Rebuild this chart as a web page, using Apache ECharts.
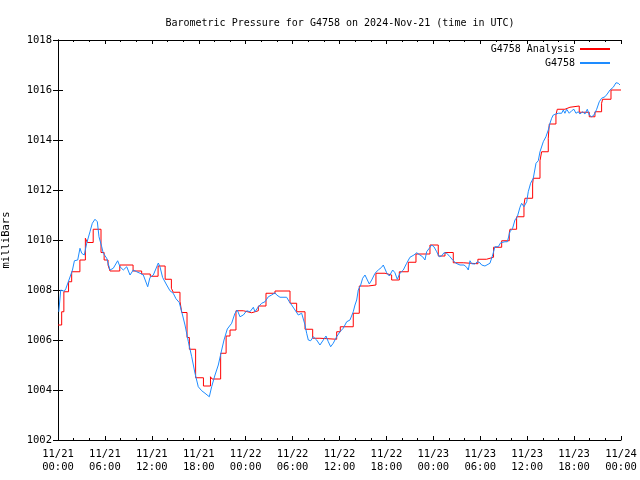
<!DOCTYPE html>
<html>
<head>
<meta charset="utf-8">
<script src="https://cdn.jsdelivr.net/npm/echarts@6/dist/echarts.min.js"></script>
<style>html,body{margin:0;padding:0;background:#fff}#c{width:640px;height:480px}</style>
</head>
<body>
<div id="c"></div>
<script>
// Hours since 2024-11-21 00:00 UTC
const analysisHours = [0,0.47,0.75,1.35,1.75,2.8,3.5,3.75,4.5,5.5,5.9,6.4,6.65,7.9,9.6,10.7,11.8,12.8,13.7,14.5,14.74,15.6,15.82,16.5,16.8,17.6,18.6,19.5,19.7,20.8,21.5,22.0,22.76,23.7,24.77,25.62,26.6,27.75,29.67,30.52,31.59,32.57,33.5,35.64,36.1,37.76,38.53,39.68,40.66,41.82,42.67,43.65,44.8,45.78,47.57,48.63,49.49,50.55,51.83,53.7,54.8,55.7,56.74,57.71,57.8,58.65,59.59,59.72,60.7,60.78,61.64,61.85,62.7,62.83,63.68,63.85,64.83,65.47,66.66,67.94,68.67,69.52,69.65,70.72,72];
const analysisValues = [1006.6,1007.13,1007.93,1008.33,1008.73,1009.2,1010.07,1009.9,1010.43,1009.5,1009.2,1009.0,1008.76,1009.0,1008.76,1008.64,1008.55,1008.96,1008.43,1008.07,1007.91,1007.55,1007.1,1006.1,1005.63,1004.49,1004.16,1004.53,1004.44,1005.47,1006.16,1006.4,1007.17,1007.09,1007.17,1007.36,1007.87,1007.96,1007.47,1007.13,1006.43,1006.07,1006.03,1006.33,1006.53,1007.07,1008.16,1008.2,1008.67,1008.6,1008.4,1008.73,1009.11,1009.44,1009.8,1009.36,1009.5,1009.09,1009.05,1009.23,1009.31,1009.71,1009.97,1010.27,1010.43,1010.93,1011.4,1011.67,1012.24,1012.47,1013.17,1013.53,1014.07,1014.64,1015.0,1015.23,1015.31,1015.36,1015.11,1014.93,1015.13,1015.47,1015.63,1016.0,1016.0];

const obsHours = [0.1,0.35,0.6,0.8,1.0,1.4,1.85,2.1,2.52,2.81,3.03,3.36,3.67,4.09,4.39,4.73,5.03,5.24,5.59,5.79,6.23,6.65,7.07,7.63,7.93,8.35,8.79,9.21,9.63,10.06,10.49,10.91,11.47,11.76,12.19,12.83,13.04,13.38,13.9,14.32,14.74,15.09,15.51,15.82,16.24,16.67,17.1,17.52,17.94,18.38,18.8,19.35,19.65,20.08,20.5,20.93,21.23,21.65,22.21,22.63,22.93,23.27,23.7,24.13,24.55,24.98,25.19,25.62,26.05,26.47,26.9,27.32,27.75,27.97,28.39,29.24,29.58,29.88,30.31,30.73,31.16,31.59,31.8,32.01,32.31,32.65,33.08,33.5,33.93,34.27,34.57,34.87,35.2,35.64,36.06,36.48,36.92,37.34,37.76,37.98,38.2,38.4,38.71,38.96,39.26,39.48,39.81,40.12,40.54,40.96,41.39,41.6,42.03,42.37,42.8,43.09,43.39,43.73,44.16,44.59,45.01,45.52,45.87,46.29,46.63,46.93,47.15,47.48,47.79,48.08,48.43,48.76,49.06,49.36,49.71,50.13,50.47,50.9,51.41,51.92,52.26,52.47,52.69,52.9,53.32,53.62,53.96,54.18,54.6,54.82,55.24,55.59,55.88,56.3,56.61,57.16,57.46,57.8,58.14,58.44,58.74,59.08,59.29,59.59,59.94,60.14,60.44,60.78,61.13,61.42,61.64,62.06,62.4,62.7,62.92,63.13,63.34,63.68,63.98,64.41,64.62,64.83,65.05,65.38,65.69,65.98,66.24,66.54,66.75,67.09,67.39,67.69,67.94,68.25,68.54,68.89,69.22,69.52,69.95,70.24,70.59,71.01,71.36,71.65,71.87];
const obsValues = [1007.13,1008.0,1008.07,1007.95,1008.05,1008.4,1008.8,1009.17,1009.2,1009.67,1009.47,1009.4,1009.87,1010.33,1010.67,1010.83,1010.73,1010.13,1009.73,1009.47,1009.27,1008.8,1008.87,1009.17,1008.93,1008.8,1008.93,1008.6,1008.8,1008.73,1008.67,1008.6,1008.13,1008.5,1008.6,1009.08,1008.93,1008.5,1008.2,1007.97,1007.87,1007.65,1007.5,1007.13,1006.6,1005.93,1005.33,1004.67,1004.13,1003.97,1003.87,1003.73,1004.13,1004.6,1005.0,1005.6,1006.0,1006.44,1006.67,1007.07,1007.2,1006.93,1007.0,1007.17,1007.13,1007.31,1007.13,1007.33,1007.47,1007.53,1007.73,1007.8,1007.89,1007.8,1007.71,1007.71,1007.53,1007.4,1007.2,1007.0,1007.07,1006.6,1006.27,1006.0,1005.97,1006.13,1006.0,1005.8,1006.0,1006.16,1005.93,1005.73,1005.87,1006.13,1006.33,1006.47,1006.73,1006.8,1007.13,1007.4,1007.6,1008.0,1008.2,1008.47,1008.6,1008.53,1008.24,1008.4,1008.67,1008.8,1008.91,1009.0,1008.69,1008.56,1008.8,1008.69,1008.43,1008.67,1008.8,1009.07,1009.31,1009.4,1009.49,1009.4,1009.33,1009.2,1009.53,1009.67,1009.8,1009.73,1009.53,1009.33,1009.36,1009.49,1009.47,1009.33,1009.2,1009.07,1009.0,1009.0,1008.91,1008.8,1009.17,1009.05,1009.04,1009.13,1009.09,1009.0,1008.96,1008.91,1009.07,1009.4,1009.73,1009.73,1009.89,1009.93,1009.93,1010.33,1010.47,1010.8,1010.93,1011.31,1011.47,1011.33,1011.53,1011.93,1012.27,1012.47,1013.07,1013.17,1013.53,1013.93,1014.13,1014.4,1014.67,1014.87,1015.0,1015.04,1015.07,1015.07,1015.2,1015.07,1015.23,1015.07,1015.17,1015.23,1015.07,1015.13,1015.04,1015.13,1015.04,1015.23,1015.0,1014.93,1015.0,1015.23,1015.53,1015.67,1015.73,1015.84,1016.0,1016.11,1016.29,1016.27,1016.2];

const seriesNames = ['G4758 Analysis', 'G4758'];
const titleText = 'Barometric Pressure for G4758 on 2024-Nov-21 (time in UTC)';
const yName = 'milliBars';

const MONO = '"DejaVu Sans Mono", "Liberation Mono", monospace';

function fmtTime(h) {
  const day = 21 + Math.floor(h / 24 + 1e-9);
  const hr = Math.round(h - (day - 21) * 24);
  return '11/' + day + '\n' + String(hr).padStart(2, '0') + ':00';
}

const chart = echarts.init(document.getElementById('c'), null, {renderer: 'canvas'});
const axisLine = {show: true, lineStyle: {color: '#000', width: 1}};
chart.setOption({
  animation: false,
  backgroundColor: '#fff',
  title: {
    text: titleText, left: 335, top: 13, textAlign: 'center',
    textStyle: {fontFamily: MONO, fontSize: 10, fontWeight: 'normal', color: '#000'}
  },
  legend: {
    orient: 'vertical', right: 25, top: 39, align: 'right',
    itemWidth: 30, itemHeight: 2, itemGap: 4, icon: 'rect',
    textStyle: {fontFamily: MONO, fontSize: 10, color: '#000', padding: [0, 0, 0, 0]},
    data: seriesNames
  },
  grid: {left: 58, right: 19, top: 40, bottom: 40, containLabel: false, outerBoundsMode: 'none'},
  xAxis: [{
    type: 'value', min: 0, max: 72, interval: 6,
    axisLine: axisLine,
    axisTick: {show: true, inside: true, length: 4, lineStyle: {color: '#000'}},
    minorTick: {show: true, splitNumber: 3, length: 2, lineStyle: {color: '#000'}},
    splitLine: {show: false},
    axisLabel: {formatter: fmtTime, fontFamily: MONO, fontSize: 10.5, color: '#000', margin: 8, lineHeight: 13}
  }, {
    type: 'value', min: 0, max: 72, interval: 6, position: 'top',
    axisLine: axisLine,
    axisTick: {show: true, inside: true, length: 4, lineStyle: {color: '#000'}},
    minorTick: {show: true, splitNumber: 3, length: 2, lineStyle: {color: '#000'}},
    splitLine: {show: false}, axisLabel: {show: false}
  }],
  yAxis: [{
    type: 'value', min: 1002, max: 1018, interval: 2,
    name: yName, nameLocation: 'middle', nameGap: 46, nameRotate: 90,
    nameTextStyle: {fontFamily: MONO, fontSize: 10.5, color: '#000'},
    axisLine: axisLine,
    axisTick: {show: true, inside: true, length: 5, lineStyle: {color: '#000'}},
    splitLine: {show: false},
    axisLabel: {fontFamily: MONO, fontSize: 10.5, color: '#000', margin: 6, formatter: v => String(v)}
  }, {
    type: 'value', min: 1002, max: 1018, interval: 2, position: 'right',
    axisLine: axisLine,
    axisTick: {show: true, inside: true, length: 5, lineStyle: {color: '#000'}},
    splitLine: {show: false}, axisLabel: {show: false}
  }],
  series: [{
    name: seriesNames[0], type: 'line', step: 'end', showSymbol: false,
    color: '#ff0000', lineStyle: {color: '#ff0000', width: 1},
    data: analysisHours.map((h, i) => [h, analysisValues[i]])
  }, {
    name: seriesNames[1], type: 'line', showSymbol: false,
    color: '#1e8cff', lineStyle: {color: '#1e8cff', width: 1},
    data: obsHours.map((h, i) => [h, obsValues[i]])
  }]
});
</script>
</body>
</html>
